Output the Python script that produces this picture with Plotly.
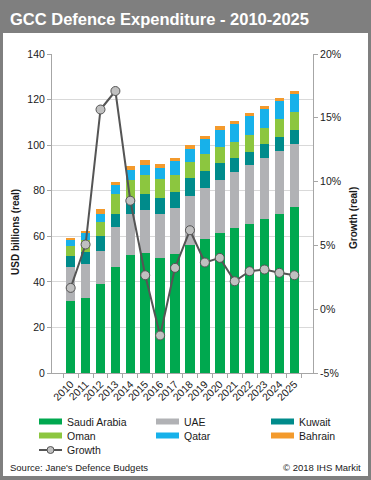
import plotly.graph_objects as go

# ---------------- data ----------------
years = [str(y) for y in range(2010, 2026)]
saudi   = [31.6, 32.8, 39.0, 46.6, 51.8, 52.5, 50.6, 52.2, 56.1, 58.6, 61.3, 63.5, 65.6, 67.8, 70.0, 72.7]
uae     = [15.0, 14.9, 14.6, 17.3, 18.2, 19.0, 19.1, 20.0, 21.7, 22.7, 23.3, 24.8, 25.6, 26.6, 27.5, 27.7]
kuwait  = [4.8, 5.5, 6.5, 6.1, 5.9, 6.9, 7.2, 7.3, 7.6, 7.3, 7.6, 6.1, 5.9, 5.9, 5.9, 6.2]
oman    = [4.3, 5.1, 6.3, 8.5, 8.7, 8.4, 8.1, 7.3, 7.0, 7.3, 7.1, 7.0, 7.3, 7.3, 7.9, 7.9]
qatar   = [2.6, 3.2, 3.6, 4.0, 4.4, 4.7, 4.8, 6.2, 6.1, 7.0, 7.3, 7.8, 8.3, 8.2, 8.1, 8.0]
bahrain = [1.0, 0.8, 1.8, 1.4, 1.9, 1.9, 1.9, 1.4, 1.5, 1.0, 1.6, 1.3, 1.3, 1.4, 1.2, 1.3]
growth  = [1.67, 5.07, 15.65, 17.1, 8.5, 2.66, -2.06, 3.24, 6.19, 3.66, 4.02, 2.19, 2.98, 3.11, 2.85, 2.66]

left_ticks = [0, 20, 40, 60, 80, 100, 120, 140]
right_tickvals = [-5, 0, 5, 10, 15, 20]
right_ticktext = ["-5%", "0%", "5%", "10%", "15%", "20%"]

series_names = ["Saudi Arabia", "UAE", "Kuwait", "Oman", "Qatar", "Bahrain"]
series_values = [saudi, uae, kuwait, oman, qatar, bahrain]
series_colors = ["#00a84f", "#b1b2b5", "#008b8b", "#8cc63f", "#17b1ea", "#f39a2c"]

title_text = "GCC Defence Expenditure - 2010-2025"
source_text = "Source: Jane's Defence Budgets"
copyright_text = "\u00a9 2018 IHS Markit"

# ---------------- layout geometry ----------------
W, H = 371, 480
PL, PR, PT, PB = 52, 313, 54, 373   # plot area in pixels
FONT = "Liberation Sans, Arial, sans-serif"
TXT = "#1a1a1a"
AX = "#a6a6a6"
FRAME = "#7f7f7f"

def px(x):
    return (x - PL) / (PR - PL)

def py(y):
    return (PB - y) / (PB - PT)

fig = go.Figure()

for name, vals, col in zip(series_names, series_values, series_colors):
    fig.add_trace(go.Bar(x=years, y=vals, name=name, marker_color=col,
                         marker_line_width=0, showlegend=False))

fig.add_trace(go.Scatter(x=years, y=growth, name="Growth", yaxis="y2",
                         mode="lines+markers",
                         line=dict(color="#555555", width=2),
                         marker=dict(size=9, color="#c0c0c0",
                                     line=dict(color="#555555", width=1)),
                         showlegend=False))

shapes = []
annotations = []

# frame
for x0, x1, y0, y1 in [(0, W, 0, 33), (0, 3, 0, H), (W - 3, W, 0, H), (0, W, H - 4, H)]:
    shapes.append(dict(type="rect", xref="paper", yref="paper",
                       x0=px(x0), x1=px(x1), y0=py(y0), y1=py(y1),
                       fillcolor=FRAME, line_width=0, layer="below"))

annotations.append(dict(text="<b>" + title_text + "</b>", xref="paper", yref="paper",
                        x=px(8), y=py(19), xanchor="left", yanchor="middle",
                        showarrow=False, font=dict(family=FONT, size=16.5, color="white")))

# axis titles
annotations.append(dict(text="<b>USD billions (real)</b>", xref="paper", yref="paper",
                        x=px(15), y=py(232), textangle=-90, xanchor="center", yanchor="middle",
                        showarrow=False, font=dict(family=FONT, size=10, color=TXT)))
annotations.append(dict(text="<b>Growth (real)</b>", xref="paper", yref="paper",
                        x=px(353), y=py(218), textangle=-90, xanchor="center", yanchor="middle",
                        showarrow=False, font=dict(family=FONT, size=10, color=TXT)))

# legend (manual, to match wide swatches)
legend_cols = [39, 156, 271]
legend_rows = [421.5, 435.5, 450]
entries = list(zip(series_names, series_colors)) + [("Growth", None)]
for i, (name, col) in enumerate(entries):
    cx = legend_cols[i % 3]
    cy = legend_rows[i // 3]
    if col is not None:
        shapes.append(dict(type="rect", xref="paper", yref="paper",
                           x0=px(cx), x1=px(cx + 23), y0=py(cy - 3), y1=py(cy + 3),
                           fillcolor=col, line_width=0))
    else:
        shapes.append(dict(type="line", xref="paper", yref="paper",
                           x0=px(cx), x1=px(cx + 23), y0=py(cy), y1=py(cy),
                           line=dict(color="#555555", width=2)))
        shapes.append(dict(type="circle", xref="paper", yref="paper",
                           x0=px(cx + 8), x1=px(cx + 15), y0=py(cy - 3.5), y1=py(cy + 3.5),
                           fillcolor="#c0c0c0", line=dict(color="#555555", width=1)))
    annotations.append(dict(text=name, xref="paper", yref="paper",
                            x=px(cx + 26), y=py(cy), xanchor="left", yanchor="middle",
                            showarrow=False, font=dict(family=FONT, size=10.5, color=TXT)))

annotations.append(dict(text=source_text, xref="paper", yref="paper",
                        x=px(8), y=py(467.5), xanchor="left", yanchor="middle",
                        showarrow=False, font=dict(family=FONT, size=9.5, color=TXT)))
annotations.append(dict(text=copyright_text, xref="paper", yref="paper",
                        x=px(363), y=py(467.5), xanchor="right", yanchor="middle",
                        showarrow=False, font=dict(family=FONT, size=9.5, color=TXT)))

fig.update_layout(
    width=W, height=H,
    margin=dict(l=PL, r=W - PR, t=PT, b=H - PB, pad=0),
    paper_bgcolor="white", plot_bgcolor="white",
    barmode="stack", bargap=0.36,
    showlegend=False,
    font=dict(family=FONT, size=10.5, color=TXT),
    xaxis=dict(type="category", tickangle=-45, ticks="outside", tickson="boundaries",
               ticklen=4, tickcolor=AX, showline=True, linecolor=AX, linewidth=1,
               showgrid=False, tickfont=dict(size=10.5), automargin=False),
    yaxis=dict(range=[0, 140], tickvals=left_ticks, ticks="outside", ticklen=4,
               tickcolor=AX, showline=True, linecolor=AX, linewidth=1,
               showgrid=True, gridcolor="#d9d9d9", gridwidth=1, zeroline=False,
               tickfont=dict(size=10.5), automargin=False),
    yaxis2=dict(range=[-5, 20], overlaying="y", side="right",
                tickvals=right_tickvals, ticktext=right_ticktext,
                ticks="outside", ticklen=4, tickcolor=AX, showline=True,
                linecolor=AX, linewidth=1, showgrid=False, zeroline=False,
                tickfont=dict(size=10.5), automargin=False),
    shapes=shapes,
    annotations=annotations,
)

fig.write_html("out.html", config={"displayModeBar": False},
               post_script="document.body.style.margin='0';document.body.style.overflow='hidden';")
